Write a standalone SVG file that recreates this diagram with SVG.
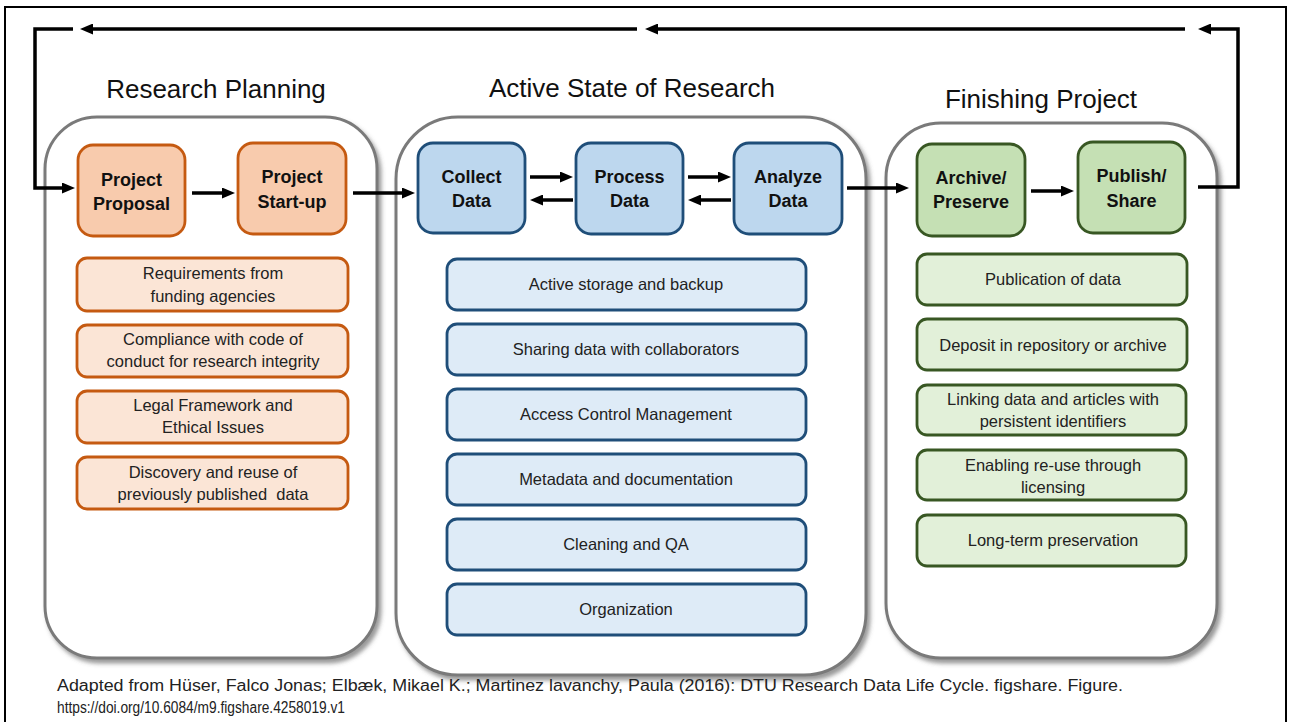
<svg xmlns="http://www.w3.org/2000/svg" width="1293" height="722" viewBox="0 0 1293 722">
  <style>
    .frame { fill: #ffffff; stroke: #000000; stroke-width: 2; }
    .panel { fill: #ffffff; stroke: #7a7a7a; stroke-width: 3; filter: url(#shadow); }
    .title { font-family: "Liberation Sans", Arial, sans-serif; font-size: 26px; fill: #111111; text-anchor: middle; }
    .step { font-family: "Liberation Sans", Arial, sans-serif; font-size: 18px; font-weight: bold; fill: #111111; text-anchor: middle; }
    .item { font-family: "Liberation Sans", Arial, sans-serif; font-size: 16.5px; fill: #222222; text-anchor: middle; }
    .caption { font-family: "Liberation Sans", Arial, sans-serif; font-size: 16px; fill: #222222; }
    .o-step { fill: #f8cbad; stroke: #c55a11; stroke-width: 2.8; }
    .o-item { fill: #fbe5d6; stroke: #c55a11; stroke-width: 2.8; }
    .b-step { fill: #bdd7ee; stroke: #1f4e79; stroke-width: 2.8; }
    .b-item { fill: #deebf7; stroke: #1f4e79; stroke-width: 2.8; }
    .g-step { fill: #c5e0b4; stroke: #385723; stroke-width: 2.8; }
    .g-item { fill: #e2f0d9; stroke: #385723; stroke-width: 2.8; }
    .flow { fill: none; stroke: #000000; stroke-width: 3.5; marker-end: url(#head); }
  </style>
  <defs>
    <filter id="shadow" x="-5%" y="-5%" width="115%" height="115%">
      <feDropShadow dx="3" dy="4" stdDeviation="2" flood-color="#555555" flood-opacity="0.6"/>
    </filter>
    <marker id="head" viewBox="0 0 13 11" refX="3" refY="5.5" markerWidth="13" markerHeight="11" markerUnits="userSpaceOnUse" orient="auto">
      <path d="M0,0 L13,5.5 L0,11 z" fill="#000000"/>
    </marker>
  </defs>

  <rect class="frame" x="5" y="7" width="1281" height="730"/>

  <!-- phase panels -->
  <g id="panel-planning">
    <rect class="panel" x="45" y="117" width="332" height="541" rx="52" ry="52"/>
    <text class="title" x="216" y="98">Research Planning</text>
  </g>
  <g id="panel-active">
    <rect class="panel" x="396" y="117" width="470" height="558" rx="62" ry="62"/>
    <text class="title" x="632" y="97">Active State of Research</text>
  </g>
  <g id="panel-finishing">
    <rect class="panel" x="886" y="123" width="331" height="535" rx="55" ry="55"/>
    <text class="title" x="1041" y="108">Finishing Project</text>
  </g>

  <!-- planning steps -->
  <g id="project-proposal">
    <rect class="o-step" x="78" y="145" width="107" height="91" rx="15"/>
    <text class="step" x="131.5" y="186">Project</text>
    <text class="step" x="131.5" y="210">Proposal</text>
  </g>
  <g id="project-startup">
    <rect class="o-step" x="238" y="143" width="108" height="91" rx="15"/>
    <text class="step" x="292" y="183">Project</text>
    <text class="step" x="292" y="208">Start-up</text>
  </g>
  <g id="req-funding">
    <rect class="o-item" x="77" y="258" width="271" height="53" rx="10"/>
    <text class="item" x="213" y="279">Requirements from</text>
    <text class="item" x="213" y="302">funding agencies</text>
  </g>
  <g id="req-compliance">
    <rect class="o-item" x="77" y="325" width="271" height="52" rx="10"/>
    <text class="item" x="213" y="345">Compliance with code of</text>
    <text class="item" x="213" y="367">conduct for research integrity</text>
  </g>
  <g id="req-legal">
    <rect class="o-item" x="77" y="391" width="271" height="52" rx="10"/>
    <text class="item" x="213" y="411">Legal Framework and</text>
    <text class="item" x="213" y="433">Ethical Issues</text>
  </g>
  <g id="req-discovery">
    <rect class="o-item" x="77" y="457" width="271" height="52" rx="10"/>
    <text class="item" x="213" y="478">Discovery and reuse of</text>
    <text class="item" x="213" y="500" xml:space="preserve">previously published  data</text>
  </g>

  <!-- active research steps -->
  <g id="collect-data">
    <rect class="b-step" x="418" y="143" width="107" height="90" rx="15"/>
    <text class="step" x="471.5" y="183">Collect</text>
    <text class="step" x="471.5" y="207">Data</text>
  </g>
  <g id="process-data">
    <rect class="b-step" x="576" y="143" width="107" height="91" rx="15"/>
    <text class="step" x="629.5" y="183">Process</text>
    <text class="step" x="629.5" y="207">Data</text>
  </g>
  <g id="analyze-data">
    <rect class="b-step" x="734" y="143" width="108" height="91" rx="15"/>
    <text class="step" x="788" y="183">Analyze</text>
    <text class="step" x="788" y="207">Data</text>
  </g>
  <g id="act-storage">
    <rect class="b-item" x="447" y="259" width="359" height="51" rx="10"/>
    <text class="item" x="626" y="290">Active storage and backup</text>
  </g>
  <g id="act-sharing">
    <rect class="b-item" x="447" y="324" width="359" height="51" rx="10"/>
    <text class="item" x="626" y="355">Sharing data with collaborators</text>
  </g>
  <g id="act-access">
    <rect class="b-item" x="447" y="389" width="359" height="51" rx="10"/>
    <text class="item" x="626" y="420">Access Control Management</text>
  </g>
  <g id="act-metadata">
    <rect class="b-item" x="447" y="454" width="359" height="51" rx="10"/>
    <text class="item" x="626" y="485">Metadata and documentation</text>
  </g>
  <g id="act-cleaning">
    <rect class="b-item" x="447" y="519" width="359" height="51" rx="10"/>
    <text class="item" x="626" y="550">Cleaning and QA</text>
  </g>
  <g id="act-organization">
    <rect class="b-item" x="447" y="584" width="359" height="51" rx="10"/>
    <text class="item" x="626" y="615">Organization</text>
  </g>

  <!-- finishing steps -->
  <g id="archive-preserve">
    <rect class="g-step" x="917" y="144" width="108" height="92" rx="15"/>
    <text class="step" x="971" y="184">Archive/</text>
    <text class="step" x="971" y="208">Preserve</text>
  </g>
  <g id="publish-share">
    <rect class="g-step" x="1078" y="142" width="107" height="91" rx="15"/>
    <text class="step" x="1131.5" y="182">Publish/</text>
    <text class="step" x="1131.5" y="207">Share</text>
  </g>
  <g id="fin-publication">
    <rect class="g-item" x="917" y="254" width="270" height="51" rx="10"/>
    <text class="item" x="1053" y="285">Publication of data</text>
  </g>
  <g id="fin-deposit">
    <rect class="g-item" x="917" y="319" width="270" height="51" rx="10"/>
    <text class="item" x="1053" y="351">Deposit in repository or archive</text>
  </g>
  <g id="fin-linking">
    <rect class="g-item" x="917" y="385" width="269" height="50" rx="10"/>
    <text class="item" x="1053" y="405">Linking data and articles with</text>
    <text class="item" x="1053" y="427">persistent identifiers</text>
  </g>
  <g id="fin-licensing">
    <rect class="g-item" x="917" y="450" width="269" height="50" rx="10"/>
    <text class="item" x="1053" y="471">Enabling re-use through</text>
    <text class="item" x="1053" y="493">licensing</text>
  </g>
  <g id="fin-preservation">
    <rect class="g-item" x="917" y="515" width="269" height="51" rx="10"/>
    <text class="item" x="1053" y="546">Long-term preservation</text>
  </g>

  <!-- connectors -->
  <g id="connectors">
    <path class="flow" d="M192,193 H225"/>
    <path class="flow" d="M353,193 H405"/>
    <path class="flow" d="M530,177 H563"/>
    <path class="flow" d="M573,200 H540"/>
    <path class="flow" d="M688,177 H721"/>
    <path class="flow" d="M731,200 H698"/>
    <path class="flow" d="M847,188 H899"/>
    <path class="flow" d="M1031,191 H1064"/>
    <!-- feedback loop back to the proposal -->
    <path class="flow" d="M1198,187 H1238 V29 H1208"/>
    <path class="flow" d="M1185,29 H655"/>
    <path class="flow" d="M637,29 H90"/>
    <path class="flow" d="M73,29 H35 V188 H65"/>
  </g>

  <text class="caption" x="57" y="691" textLength="1066" lengthAdjust="spacingAndGlyphs">Adapted from Hüser, Falco Jonas; Elbæk, Mikael K.; Martinez lavanchy, Paula (2016): DTU Research Data Life Cycle. figshare. Figure.</text>
  <text class="caption" x="57" y="713" textLength="288" lengthAdjust="spacingAndGlyphs">https://doi.org/10.6084/m9.figshare.4258019.v1</text>
</svg>
